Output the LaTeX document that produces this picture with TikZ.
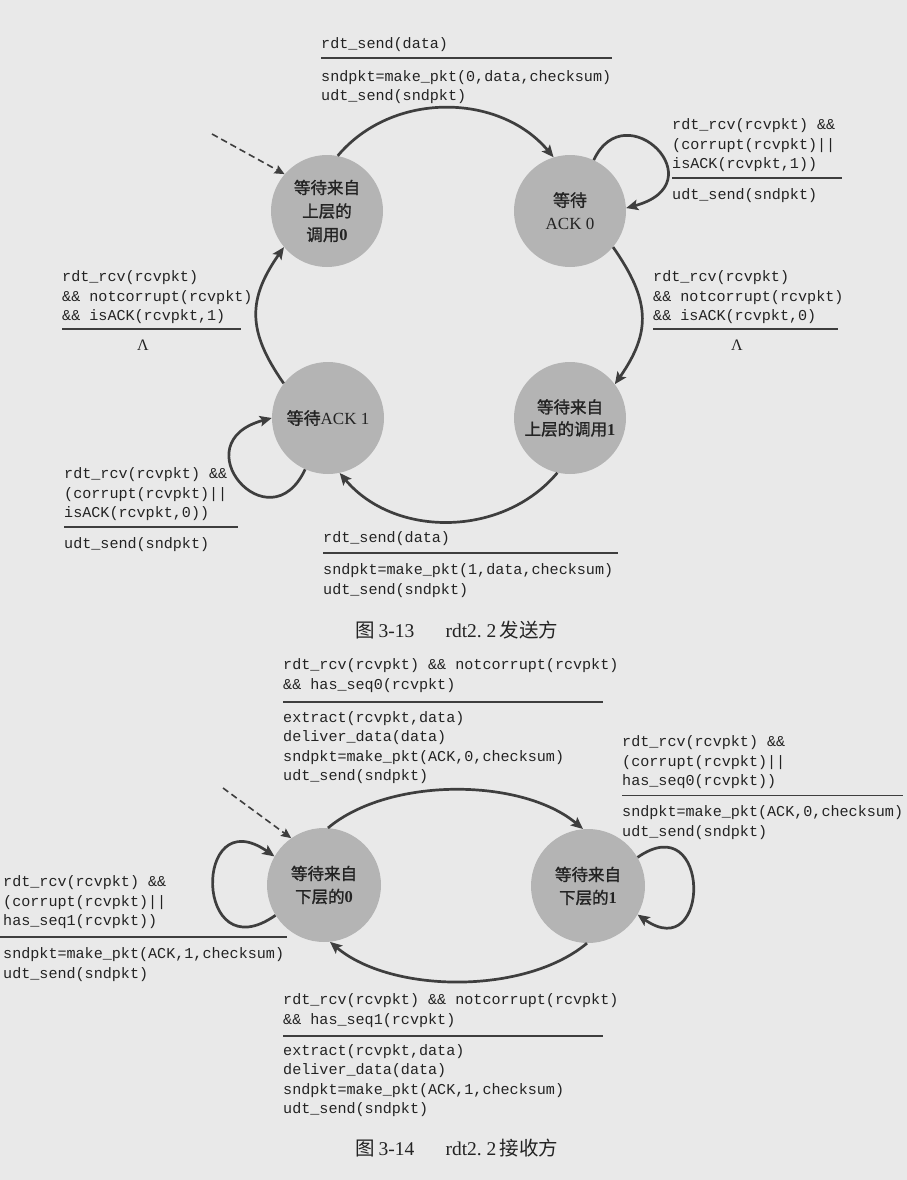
\documentclass[tikz,border=0pt]{standalone}
\usepackage{fontspec}
\setmainfont{Liberation Serif}
\setmonofont{Liberation Mono}
\newfontfamily\cjk[FakeBold=1.3]{Noto Sans CJK SC}
\newfontfamily\cjkr{Noto Sans CJK SC}
\usetikzlibrary{arrows.meta}
\definecolor{bgc}{RGB}{233,233,233}
\definecolor{circ}{RGB}{180,180,180}
\definecolor{lnc}{RGB}{62,62,62}
\definecolor{txt}{RGB}{35,35,35}
\newcommand\zh[1]{{\cjk #1}}
\newcommand\zhr[1]{{\cjkr #1}}
\newcommand\lblfont{\ttfamily\fontsize{15.1}{19.5}\selectfont}
\tikzset{
  lbl/.style={anchor=base west, align=left, inner sep=0pt, font=\lblfont, text=txt},
  lamb/.style={inner sep=0pt, font=\fontsize{16}{18}\selectfont, text=txt},
  figcap/.style={inner sep=0pt, font=\fontsize{19.5}{22}\selectfont, text=txt},
  stat/.style={circle, fill=circ, minimum size=112pt, inner sep=0pt, align=center,
    text=txt, font=\fontsize{16.5}{23.5}\selectfont},
  rulel/.style={draw=lnc, line width=1.3pt},
  trans/.style={draw=lnc, line width=2.7pt, -{Stealth[length=12pt,width=10.5pt,inset=2.5pt]}},
  initarr/.style={draw=lnc, line width=1.6pt, dash pattern=on 6.5pt off 4pt,
    -{Stealth[length=10pt,width=9pt,inset=1.5pt]}}
}
\begin{document}
\begin{tikzpicture}[x=1pt,y=1pt]
\useasboundingbox (0,0) rectangle (907,-1180);
\fill[bgc] (0,0) rectangle (907,-1180);

% ---------- Figure 3-13 ----------
\node[stat] (c0) at (327,-211) {\zh{等待来自}\\\zh{上层的}\\\zh{调用}\textbf{0}};
\node[stat, font=\fontsize{17}{23}\selectfont] (a0) at (570,-211) {\zh{等待}\\ACK 0};
\node[stat, font=\fontsize{17}{23}\selectfont] (a1) at (328,-418) {\zh{等待}ACK 1};
\node[stat, font=\fontsize{16.5}{22}\selectfont] (c1) at (570,-418) {\zh{等待来自}\\\zh{上层的调用}\textbf{1}};

\coordinate (s0) at (212,-134);
\draw[initarr] (s0) -- (c0.139);

\draw[trans] (c0.79) to[out=50,in=130] (a0.107);
\draw[trans] (a0.65) .. controls +(65:75) and +(15:95) .. (a0.3);
\draw[trans] (a0.-40) to[out=-55,in=55,looseness=1.2] (c1.37);
\draw[trans] (c1.-103) to[out=-130,in=-50] (a1.-78);
\draw[trans] (a1.-114) .. controls +(-115:85) and +(195:95) .. (a1.180);
\draw[trans] (a1.142) to[out=125,in=-125,looseness=1.2] (c0.-140);

\node[lbl] (t1c) at (321,-48.5) {rdt\_send(data)};
\draw[rulel] (321,-58) -- (612,-58);
\node[lbl] (t1a) at (321,-101) {sndpkt=make\_pkt(0,data,checksum)\\udt\_send(sndpkt)};

\node[lbl] (r1c) at (672,-168.5) {rdt\_rcv(rcvpkt) \&\&\\(corrupt(rcvpkt)||\\isACK(rcvpkt,1))};
\draw[rulel] (672,-178) -- (842,-178);
\node[lbl] (r1a) at (672,-199.5) {udt\_send(sndpkt)};

\node[lbl] (r2c) at (653,-320.5) {rdt\_rcv(rcvpkt)\\\&\& notcorrupt(rcvpkt)\\\&\& isACK(rcvpkt,0)};
\draw[rulel] (653,-329) -- (838,-329);
\node[lamb] (r2a) at (737,-345) {Λ};

\node[lbl] (l2c) at (62,-320.5) {rdt\_rcv(rcvpkt)\\\&\& notcorrupt(rcvpkt)\\\&\& isACK(rcvpkt,1)};
\draw[rulel] (62,-329) -- (241,-329);
\node[lamb] (l2a) at (143,-345) {Λ};

\node[lbl] (l3c) at (64,-517.5) {rdt\_rcv(rcvpkt) \&\&\\(corrupt(rcvpkt)||\\isACK(rcvpkt,0))};
\draw[rulel] (64,-527) -- (238,-527);
\node[lbl] (l3a) at (64,-548.5) {udt\_send(sndpkt)};

\node[lbl] (b1c) at (323,-542.5) {rdt\_send(data)};
\draw[rulel] (323,-553) -- (618,-553);
\node[lbl] (b1a) at (323,-594) {sndpkt=make\_pkt(1,data,checksum)\\udt\_send(sndpkt)};

\node[figcap] (cap1) at (457,-630) {\zhr{图}\,3-13\hspace{1.6em}rdt2.\ 2\,\zhr{发送方}};

% ---------- Figure 3-14 ----------
\node[stat, minimum size=114pt, font=\fontsize{16.5}{23}\selectfont] (r0) at (324,-885) {\zh{等待来自}\\\zh{下层的}\textbf{0}};
\node[stat, minimum size=114pt, font=\fontsize{16.5}{23}\selectfont] (r1) at (588,-886) {\zh{等待来自}\\\zh{下层的}\textbf{1}};

\coordinate (s1) at (223,-788);
\draw[initarr] (s1) -- (r0.125);

\draw[trans] (r0.86) to[out=40,in=140,looseness=0.8] (r1.95);
\draw[trans] (r1.-91) to[out=-140,in=-40,looseness=0.8] (r0.-84);
\draw[trans] (r1.30) .. controls +(35:90) and +(-35:90) .. (r1.-30);
\draw[trans] (r0.212) .. controls +(215:100) and +(145:100) .. (r0.150);

\node[lbl] (t2c) at (283,-689) {rdt\_rcv(rcvpkt) \&\& notcorrupt(rcvpkt)\\\&\& has\_seq0(rcvpkt)};
\draw[rulel] (283,-702) -- (603,-702);
\node[lbl] (t2a) at (283,-780.5) {extract(rcvpkt,data)\\deliver\_data(data)\\sndpkt=make\_pkt(ACK,0,checksum)\\udt\_send(sndpkt)};

\node[lbl] (r3c) at (622,-785.5) {rdt\_rcv(rcvpkt) \&\&\\(corrupt(rcvpkt)||\\has\_seq0(rcvpkt))};
\draw[rulel] (622,-795.5) -- (903,-795.5);
\node[lbl] (r3a) at (622,-836) {sndpkt=make\_pkt(ACK,0,checksum)\\udt\_send(sndpkt)};

\node[lbl] (l4c) at (3,-925.5) {rdt\_rcv(rcvpkt) \&\&\\(corrupt(rcvpkt)||\\has\_seq1(rcvpkt))};
\draw[rulel] (0,-937) -- (287,-937);
\node[lbl] (l4a) at (3,-978) {sndpkt=make\_pkt(ACK,1,checksum)\\udt\_send(sndpkt)};

\node[lbl] (b2c) at (283,-1024) {rdt\_rcv(rcvpkt) \&\& notcorrupt(rcvpkt)\\\&\& has\_seq1(rcvpkt)};
\draw[rulel] (283,-1036) -- (603,-1036);
\node[lbl] (b2a) at (283,-1113.5) {extract(rcvpkt,data)\\deliver\_data(data)\\sndpkt=make\_pkt(ACK,1,checksum)\\udt\_send(sndpkt)};

\node[figcap] (cap2) at (457,-1148) {\zhr{图}\,3-14\hspace{1.6em}rdt2.\ 2\,\zhr{接收方}};
\end{tikzpicture}
\end{document}
